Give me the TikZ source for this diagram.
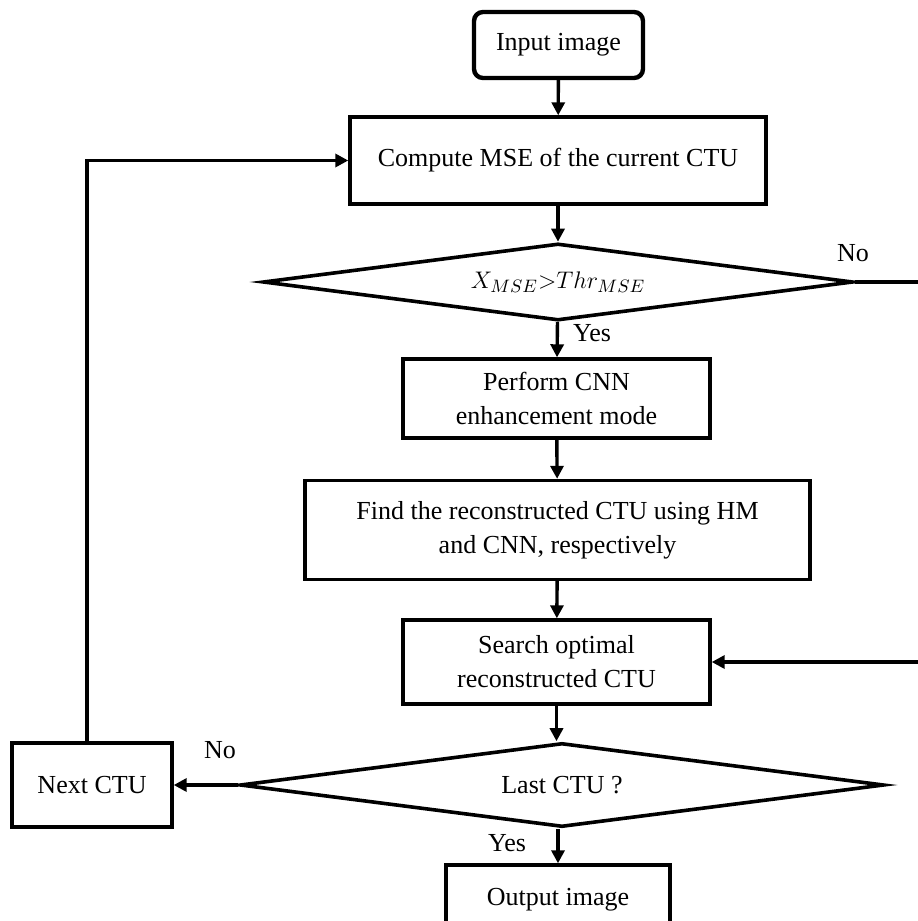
\documentclass[tikz,border=0pt]{standalone}
\usepackage{fontspec}
\setmainfont{Liberation Serif}
\usetikzlibrary{positioning, shapes, arrows.meta}

\begin{document}
\begin{tikzpicture}[x=0.5pt, y=-0.5pt, font=\fontsize{13}{17}\selectfont]
\tikzstyle{every node}=[align=center, inner sep=0pt];
\tikzstyle{box}=[draw, shape=rectangle, line width=1.7pt];
\tikzstyle{cond}=[draw, shape=diamond, aspect=8, line width=1.8pt];
\tikzstyle{link}=[line width=1.7pt, -{Triangle[length=6.5pt, width=6.5pt]}];
\useasboundingbox (0,0) rectangle (917,921);
% main column
\path (558.5,45) node [box, rounded corners=4.5pt, line width=2.2pt, minimum width=84.5pt, minimum height=33pt] (input) {Input image};
\path (558,160.5) node [box, minimum width=208pt, minimum height=43.5pt] (compute) {Compute MSE of the current CTU};
\path (558,282) node [cond, minimum width=295pt, minimum height=38.5pt] (mse) {$X_{MSE}{>}Thr_{MSE}$};
\path (556.5,398.5) node [box, minimum width=153.5pt, minimum height=39.5pt] (perform) {Perform CNN\\enhancement mode};
\path (557.5,530) node [box, minimum width=252.5pt, minimum height=49.5pt] (find) {Find the reconstructed CTU using HM\\and CNN, respectively};
\path (556.5,662) node [box, minimum width=153.5pt, minimum height=42pt] (search) {Search optimal\\reconstructed CTU};
\path (562,785) node [cond, minimum width=322pt, minimum height=42pt] (last) {Last CTU ?};
\path (558,900) node [box, minimum width=112pt, minimum height=35pt] (output) {Output image};
\path (92,785) node [box, minimum width=80pt, minimum height=42pt] (next) {Next CTU};
% labels
\path (853,253) node (no1) {No};
\path (592,333) node (yes1) {Yes};
\path (220,750) node (no2) {No};
\path (507,843) node (yes2) {Yes};
\coordinate (rgt) at (935,0);
\coordinate (up) at (87,0);
\draw [link] (input) -- (compute);
\draw [link] (compute) -- (mse);
\draw [link] (mse) -- (perform);
\draw [link] (perform) -- (find);
\draw [link] (find) -- (search);
\draw [link] (search.south) -- (search.south |- last.north);
\draw [link] (last.south -| output.north) -- (output.north);
\draw [link] (last.west) -- (next.east);
\draw [link] (next.north -| up) |- (compute.west);
\draw [link] (mse.east) -- (mse.east -| rgt) |- (search.east);
\end{tikzpicture}
\end{document}
